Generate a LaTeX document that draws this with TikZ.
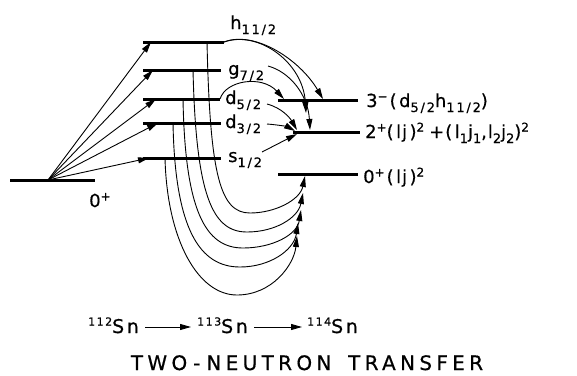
\documentclass[tikz,border=0pt]{standalone}
\usepackage{fontspec}
\setmainfont{DejaVu Sans}
\newfontfamily\labfont{DejaVu Sans}[LetterSpace=14,FakeBold=0.6]
\newfontfamily\ttlfont{DejaVu Sans}[LetterSpace=22,FakeBold=0.6]
\usetikzlibrary{arrows.meta}
\newcommand\lsub[1]{\raisebox{-5bp}{\fontsize{13}{13}\selectfont #1}}
\newcommand\lsup[1]{\raisebox{6.5bp}{\fontsize{12}{12}\selectfont #1}}
\newcommand\snsup[1]{\raisebox{7.5bp}{\fontsize{11}{11}\selectfont #1}}
\begin{document}
\begin{tikzpicture}[x=1bp,y=-1bp,
  level/.style={line width=3bp},
  thinline/.style={line width=0.9bp},
  arr/.style={thinline,-{Triangle[length=11bp,width=6bp]}},
  lab/.style={font=\labfont\fontsize{18}{18}\selectfont, inner sep=0pt, anchor=base west},
  snlab/.style={font=\labfont\fontsize{19}{19}\selectfont, inner sep=0pt, anchor=base west},
]
\useasboundingbox (0,0) rectangle (577,375);

% ground state of 112Sn
\coordinate (g0L) at (10,180); \coordinate (g0R) at (95,180);
\coordinate (src) at (48,180);
% single-particle levels of 113Sn
\coordinate (hL) at (143,42);  \coordinate (hR) at (224,42);
\coordinate (gL) at (143,70);  \coordinate (gR) at (221,70);
\coordinate (fL) at (143,99);  \coordinate (fR) at (220,99);
\coordinate (tL) at (143,123); \coordinate (tR) at (221,123);
\coordinate (sL) at (143,158); \coordinate (sR) at (221,158);
% levels of 114Sn
\coordinate (m3L) at (278,100); \coordinate (m3R) at (358,100);
\coordinate (p2L) at (293,132); \coordinate (p2R) at (360,132);
\coordinate (z0L) at (278,174); \coordinate (z0R) at (358,174);

\foreach \a/\b in {g0L/g0R,hL/hR,gL/gR,fL/fR,tL/tR,sL/sR,m3L/m3R,p2L/p2R,z0L/z0R}
  \draw[level] (\a) -- (\b);

% labels
\node[lab] (l0) at (89,207) {0\lsup{+}};
\node[lab] (lh) at (230,29) {h\lsub{11/2}};
\node[lab] (lg) at (228,75) {g\lsub{7/2}};
\node[lab] (lf) at (225,104) {d\lsub{5/2}};
\node[lab] (lt) at (225,128) {d\lsub{3/2}};
\node[lab] (ls) at (228,162) {s\lsub{1/2}};
\node[lab] (l3) at (366,107) {3\lsup{−}\kern2bp(d\lsub{5/2}h\lsub{11/2})};
\node[lab] (l2) at (365,138) {2\lsup{+}(l\kern1bp j)\lsup{2}\kern5bp+\kern1bp(l\lsub{1}j\lsub{1},\kern1bp l\lsub{2}j\lsub{2})\lsup{2}};
\node[lab] (l0p) at (363,183) {0\lsup{+}\kern2bp(l\kern1bp j)\lsup{2}};

% one-neutron transfer arrows
\coordinate (ah) at (151,42); \coordinate (ag) at (153,70);
\coordinate (af) at (156,99); \coordinate (at) at (158,123);
\coordinate (as) at (149,158);
\foreach \t in {ah,ag,af,at,as} \draw[arr] (src) -- (\t);

% pair curves to 0+ of 114Sn
\coordinate (vh) at (207,42); \coordinate (vg) at (193,70);
\coordinate (vf) at (183,99); \coordinate (vt) at (173,123);
\coordinate (vs) at (165,158);
\coordinate (e1) at (305,176); \coordinate (e2) at (303,193);
\coordinate (e3) at (301,210); \coordinate (e4) at (298,223);
\coordinate (e5) at (297,236);
\draw[arr] (vh) .. controls (210,175) and (220,213) .. (250,213)
               .. controls (275,213) and (300,200) .. (e1);
\draw[arr] (vg) .. controls (196,195) and (212,232) .. (247,232)
               .. controls (275,232) and (298,218) .. (e2);
\draw[arr] (vf) .. controls (185,210) and (205,248) .. (243,248)
               .. controls (272,248) and (297,235) .. (e3);
\draw[arr] (vt) .. controls (175,230) and (200,267) .. (240,267)
               .. controls (270,267) and (294,250) .. (e4);
\draw[arr] (vs) .. controls (167,240) and (198,295) .. (237,295)
               .. controls (272,295) and (294,265) .. (e5);

% arrows to 3- and 2+
\coordinate (m3a) at (284,99); \coordinate (m3b) at (323,99);
\coordinate (p2h) at (306,113); \coordinate (p2g) at (310,130);
\coordinate (gs) at (268,66); \coordinate (fs) at (267,104);
\coordinate (ts) at (267,124); \coordinate (ss) at (262,152);
\coordinate (p2f) at (297,130); \coordinate (p2t) at (295,131);
\coordinate (p2s) at (297,134);
\draw[arr] (fR) .. controls (226,80) and (262,75) .. (m3a);
\draw[arr] (hR) .. controls (255,30) and (300,60) .. (m3b);
\draw[arr] (hR) .. controls (258,30) and (303,62) .. (p2h);
\draw[arr] (gs) .. controls (290,72) and (308,95) .. (p2g);
\draw[arr] (fs) .. controls (282,108) and (290,118) .. (p2f);
\draw[arr] (ts) .. controls (280,125) and (288,127) .. (p2t);
\draw[arr] (ss) -- (p2s);

% reaction sequence
\node[snlab] (sn112) at (88,333) {\snsup{112}Sn};
\node[snlab] (sn113) at (197,333) {\snsup{113}Sn};
\node[snlab] (sn114) at (307,333) {\snsup{114}Sn};
\draw[arr,shorten <=6bp,shorten >=6bp] ([yshift=6bp]sn112.base east) -- ([yshift=6bp]sn113.base west);
\draw[arr,shorten <=6bp,shorten >=5bp] ([yshift=6bp]sn113.base east) -- ([yshift=6bp]sn114.base west);

\node[font=\ttlfont\fontsize{20}{20}\selectfont, inner sep=0pt, anchor=base] (title) at (307,370)
  {TWO\kern6bp-\kern6bp NEUTRON\kern6bp\ TRANSFER};
\end{tikzpicture}
\end{document}
